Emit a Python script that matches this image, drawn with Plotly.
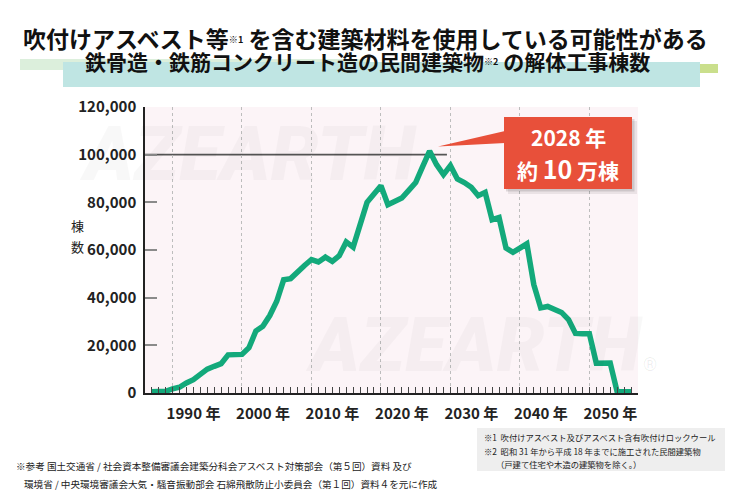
import plotly.graph_objects as go

# ---------------- data ----------------
years = list(range(1987, 2057))
counts = [
    500, 500, 700, 1700, 2400, 4200, 5600, 7800, 10000, 11200,          # 1987-1996
    12300, 16000, 16000, 16200, 19000, 26000, 28000, 32500, 38500, 47500,  # 1997-2006
    48000, 51000, 53500, 56000, 55000, 57000, 55200, 57600, 63400, 61200,  # 2007-2016
    70500, 80000, 83500, 87000, 79000, 80200, 81800, 85000, 88300, 95000,  # 2017-2026
    101500, 95800, 91600, 95400, 89800, 88300, 86300, 82800, 84200, 72700, # 2027-2036
    73600, 60800, 59000, 60800, 62600, 45500, 35700, 36300, 35100, 33800,  # 2037-2046
    30800, 25000, 24900, 24900, 12500, 12400, 12600, 500, 500, 500,        # 2047-2056
]
x_tick_years = [1990, 2000, 2010, 2020, 2030, 2040, 2050]
x_tick_text = [f"{y} 年" for y in x_tick_years]
y_ticks = [0, 20000, 40000, 60000, 80000, 100000, 120000]
ref_level = 100000
ref_end_year = 2029.5

SUP = "<span style='font-size:13px'><sup>{}</sup></span>"
title_line1 = "吹付けアスベスト等" + SUP.format("※1") + " を含む建築材料を使用している可能性がある"
title_line2 = "鉄骨造・鉄筋コンクリート造の民間建築物" + SUP.format("※2") + " の解体工事棟数"
callout_line1 = "2028 年"
callout_line2 = "約 <span style='font-size:25px'>10</span> 万棟"
source_line1 = "※参考 国土交通省 / 社会資本整備審議会建築分科会アスベスト対策部会（第５回）資料 及び"
source_line2 = "環境省 / 中央環境審議会大気・騒音振動部会 石綿飛散防止小委員会（第１回）資料４を元に作成"
note1 = "※1  吹付けアスベスト及びアスベスト含有吹付けロックウール"
note2 = "※2  昭和 31 年から平成 18 年までに施工された民間建築物"
note3 = "（戸建て住宅や木造の建築物を除く。）"

# ---------------- layout geometry ----------------
W, H = 732, 496
ML, MR, MT, MB = 145, 94, 107, 103
PW, PH = W - ML - MR, H - MT - MB

def px(xp):
    return (xp - ML) / PW

def py(yp):
    return (H - MB - yp) / PH

JP = "Noto Sans CJK JP"
GREEN = "#13a97b"
RED = "#e8503a"

fig = go.Figure()
fig.add_trace(go.Scatter(
    x=years, y=counts, mode="lines",
    line=dict(color=GREEN, width=5.5),
    hoverinfo="skip", showlegend=False,
))

shapes = []
# title highlight bands
shapes.append(dict(type="rect", xref="paper", yref="paper",
                   x0=px(20), x1=px(370), y0=py(70), y1=py(59),
                   fillcolor="#dcefdc", line_width=0, layer="below"))
shapes.append(dict(type="rect", xref="paper", yref="paper",
                   x0=px(370), x1=px(718), y0=py(73), y1=py(64),
                   fillcolor="#cadf8c", line_width=0, layer="below"))
shapes.append(dict(type="rect", xref="paper", yref="paper",
                   x0=px(63), x1=px(700), y0=py(87), y1=py(62),
                   fillcolor="#bfe5e3", line_width=0, layer="below"))
# reference line at 100,000
shapes.append(dict(type="line", xref="x", yref="y",
                   x0=1986.04, x1=ref_end_year, y0=ref_level, y1=ref_level,
                   line=dict(color="#555555", width=1.6), layer="below"))
# callout shadow + box + pointer
shapes.append(dict(type="rect", xref="paper", yref="paper",
                   x0=px(508), x1=px(637), y0=py(194), y1=py(121),
                   fillcolor="rgba(0,0,0,0.07)", line_width=0))
shapes.append(dict(type="rect", xref="paper", yref="paper",
                   x0=px(506), x1=px(634.5), y0=py(191.5), y1=py(119),
                   fillcolor="rgba(0,0,0,0.12)", line_width=0))
shapes.append(dict(type="rect", xref="paper", yref="paper",
                   x0=px(504), x1=px(632), y0=py(189), y1=py(117),
                   fillcolor=RED, line_width=0))
shapes.append(dict(type="path", xref="paper", yref="paper",
                   path=f"M {px(438)} {py(146.5)} L {px(505)} {py(131)} L {px(505)} {py(143)} Z",
                   fillcolor=RED, line_width=0))
# footnote box
shapes.append(dict(type="rect", xref="paper", yref="paper",
                   x0=px(477), x1=px(725), y0=py(471), y1=py(428),
                   fillcolor="#eeeeee", line_width=0, layer="below"))

def note(text, x, y, size, color="#222222", xanchor="center", family=JP, **kw):
    return dict(text=text, xref="paper", yref="paper", x=px(x), y=py(y),
                xanchor=xanchor, yanchor="middle", showarrow=False,
                font=dict(family=family, size=size, color=color, **kw))

ann = []
# watermark
WM = "rgba(0,0,0,0.028)"
ann.append(note("AZEARTH", 248, 154, 76, WM, family="Roboto", weight=900, style="italic"))
ann.append(note("AZEARTH", 474, 345, 76, WM, family="Roboto", weight=900, style="italic"))
ann.append(note("®", 650, 364, 18, "rgba(0,0,0,0.07)", family="Roboto"))
# titles
ann.append(note(f"<b>{title_line1}</b>", 365, 38, 23, "#111111"))
ann.append(note(f"<b>{title_line2}</b>", 367, 61, 21, "#111111"))
# y-axis title
ann.append(note("棟", 77, 225, 13))
ann.append(note("数", 77, 246, 13))
# callout text
ann.append(note(f"<b>{callout_line1}</b>", 568, 137, 21, "white"))
ann.append(note(f"<b>{callout_line2}</b>", 568, 168, 21, "white"))
# sources
ann.append(note(source_line1, 14, 466, 9.6, xanchor="left"))
ann.append(note(source_line2, 22, 484, 9.6, xanchor="left"))
ann.append(note(note1, 482, 437, 8.3, xanchor="left"))
ann.append(note(note2, 482, 451, 8.3, xanchor="left"))
ann.append(note(note3, 494, 464, 8.3, xanchor="left"))

fig.update_layout(
    width=W, height=H, autosize=False,
    margin=dict(l=ML, r=MR, t=MT, b=MB, pad=0),
    paper_bgcolor="white",
    plot_bgcolor="#fcf4f7",
    showlegend=False,
    shapes=shapes,
    annotations=ann,
    xaxis=dict(
        range=[1986.04, 2057.0],
        tickmode="array", tickvals=x_tick_years, ticktext=x_tick_text,
        ticks="inside", ticklen=6, tickwidth=1, tickcolor="#444444",
        ticklabelshift=21, ticklabelstandoff=6,
        minor=dict(ticks="inside", dtick=1, tick0=1990, ticklen=6, tickwidth=1,
                   tickcolor="#444444", showgrid=False),
        showgrid=True, gridcolor="#bdbdbd", griddash="dot", gridwidth=1,
        showline=True, linecolor="#222222", linewidth=1.5,
        zeroline=False, automargin=False,
        tickfont=dict(family=JP, size=15, color="#222222", weight="bold"),
    ),
    yaxis=dict(
        range=[0, 120000],
        tickmode="array", tickvals=y_ticks, tickformat=",",
        ticks="inside", ticklen=12, tickwidth=2, tickcolor="#8a8a8a",
        showgrid=False, zeroline=False, automargin=False,
        showline=True, linecolor="#222222", linewidth=1.5,
        ticklabelstandoff=4,
        tickfont=dict(family=JP, size=15, color="#222222", weight="bold"),
    ),
)

fig.write_html("out.html", config={"displayModeBar": False},
               post_script="document.body.style.margin='0';document.body.style.overflow='hidden';")
